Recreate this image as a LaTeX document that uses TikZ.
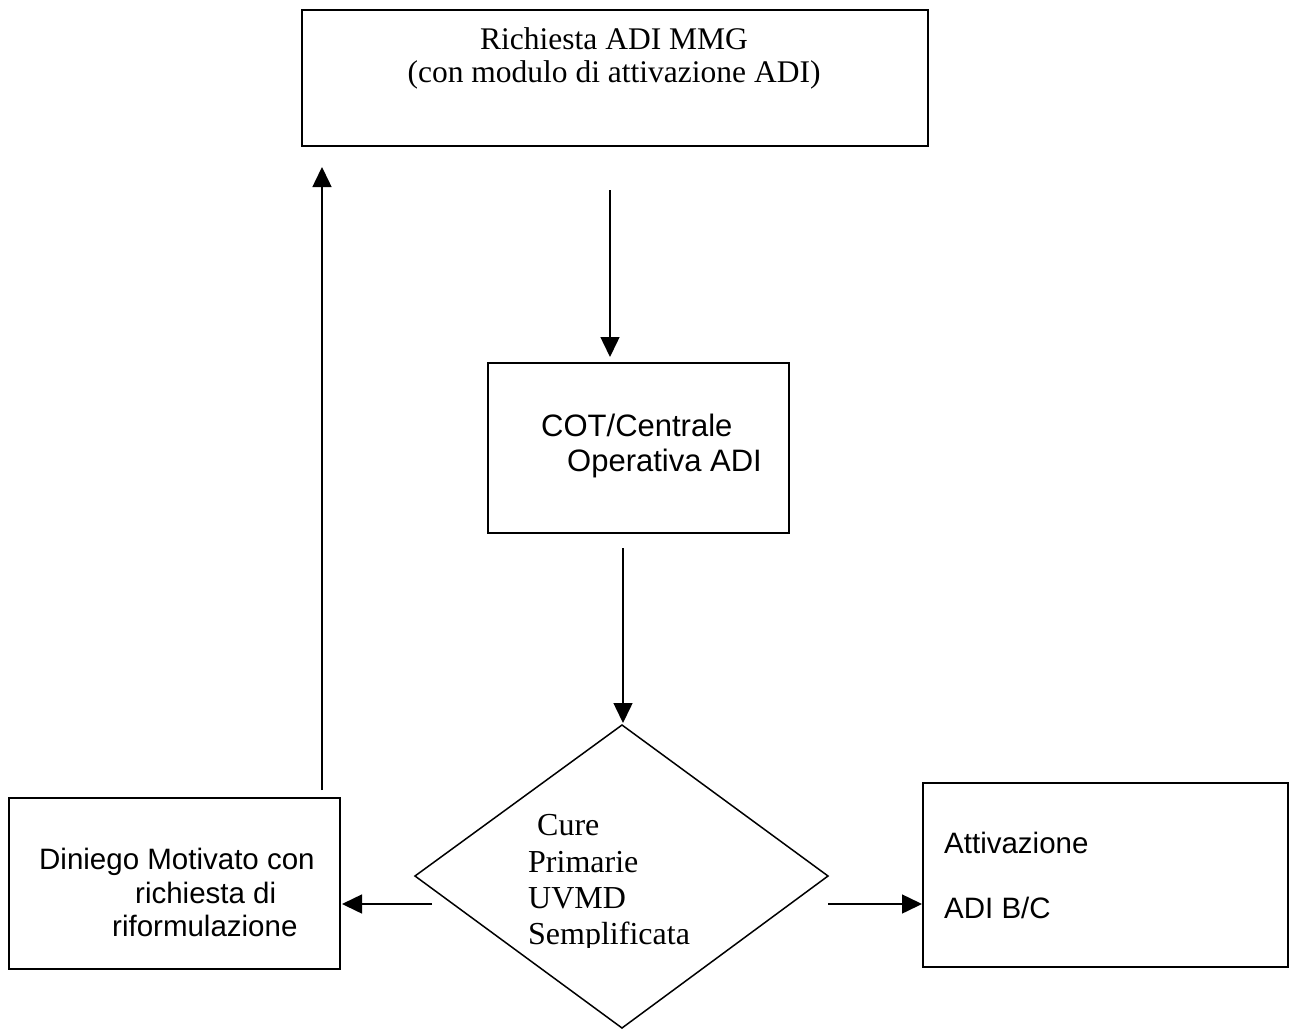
\documentclass[tikz,border=0pt]{standalone}
\usepackage{fontspec}
\setmainfont{Liberation Serif}
\newfontfamily\arialish{Liberation Sans}
\usetikzlibrary{arrows.meta}

\begin{document}
\begin{tikzpicture}[x=1pt,y=-1pt,
  box/.style={draw, line width=1.5pt, inner sep=0pt},
  flow/.style={line width=1.5pt, -{Triangle[length=20pt,width=19pt]}},
  sanstext/.style={anchor=base west, inner sep=0pt, font=\arialish\fontsize{29.5}{36}\selectfont},
  seriftext/.style={anchor=base west, inner sep=0pt, font=\fontsize{32}{38}\selectfont},
  titletext/.style={anchor=base, inner sep=0pt, font=\fontsize{31.5}{38}\selectfont},
]
\useasboundingbox (0,0) rectangle (1290,1030);

% boxes
\node[box, minimum width=626pt, minimum height=136pt] (req) at (615,78) {};
\node[box, minimum width=301pt, minimum height=170pt] (cot) at (638.5,448) {};
\node[box, minimum width=331pt, minimum height=171pt] (deny) at (174.5,883.5) {};
\node[box, minimum width=365pt, minimum height=184pt] (act) at (1105.5,875) {};

% decision diamond
\coordinate (dtop) at (622,725);
\coordinate (dleft) at (415,876);
\coordinate (dright) at (828,876);
\coordinate (dbot) at (622,1028);
\draw[line width=1.5pt, line join=miter] (dtop) -- (dright) -- (dbot) -- (dleft) -- cycle;

% texts
\node[titletext] (reqA) at (614,50) {Richiesta ADI MMG};
\node[titletext] (reqB) at (614,83) {(con modulo di attivazione ADI)};

\node[sanstext, font=\arialish\fontsize{31}{36}\selectfont] (cotA) at (541,436) {COT/Centrale};
\node[sanstext, font=\arialish\fontsize{31}{36}\selectfont] (cotB) at (567,471) {Operativa ADI};

\node[seriftext] (decA) at (537,835) {Cure};
\node[seriftext] (decB) at (528,872) {Primarie};
\node[seriftext] (decC) at (528,908) {UVMD};
\begin{scope}
  \clip (500,915) rectangle (720,947);
  \node[seriftext] (decD) at (528,944) {Semplificata};
\end{scope}

\node[sanstext] (denyA) at (39,869) {Diniego Motivato con};
\node[sanstext] (denyB) at (135,903) {richiesta di};
\node[sanstext] (denyC) at (112,936) {riformulazione};

\node[sanstext] (actA) at (944,853) {Attivazione};
\node[sanstext] (actB) at (944,918) {ADI B/C};

% connector end points
\coordinate (r2cS) at (610,190);
\coordinate (r2cE) at (610,357);
\coordinate (c2dS) at (623,548);
\coordinate (c2dE) at (623,723);
\coordinate (d2nS) at (432,904);
\coordinate (d2nE) at (342,904);
\coordinate (d2aS) at (828,904);
\coordinate (d2aE) at (922,904);
\coordinate (n2rS) at (322,790);
\coordinate (n2rE) at (322,167);

\draw[flow] (r2cS) -- (r2cE);
\draw[flow] (c2dS) -- (c2dE);
\draw[flow] (d2nS) -- (d2nE);
\draw[flow] (d2aS) -- (d2aE);
\draw[flow] (n2rS) -- (n2rE);
\end{tikzpicture}
\end{document}
